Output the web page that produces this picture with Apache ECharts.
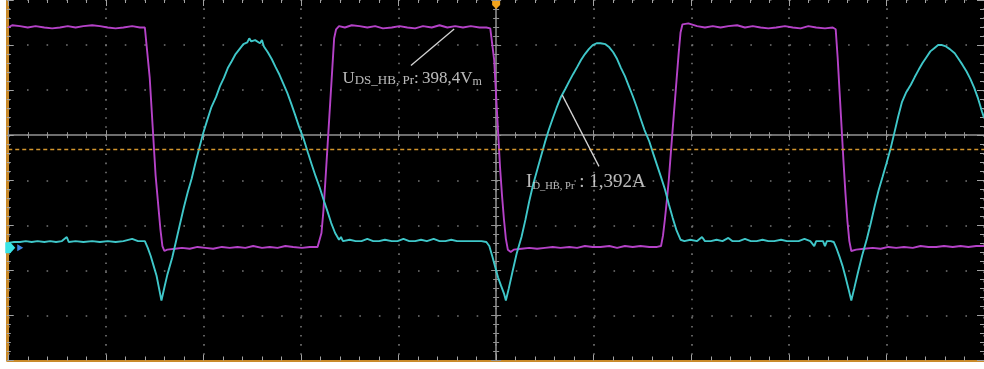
<!DOCTYPE html>
<html>
<head>
<meta charset="utf-8">
<script src="https://cdn.jsdelivr.net/npm/echarts@6/dist/echarts.min.js"></script>
<style>
  html, body { margin: 0; padding: 0; background: #fff; }
  #scope { width: 984px; height: 369px; }
</style>
</head>
<body>
<div id="scope"></div>
<script>
// Time axis in screen divisions relative to the trigger point (10 div wide),
// vertical axis in divisions (8 div tall, reference line at 0).

// Channel U: drain-source voltage of the half-bridge switch
const uTime = [
  -5.00, -4.96, -4.88, -4.80, -4.72, -4.63, -4.55, -4.47, -4.39, -4.31, -4.23, -4.14, -4.06, -3.98, -3.90, -3.82, -3.73, -3.65, -3.60, -3.58,
  -3.55, -3.52, -3.49, -3.46, -3.44, -3.42, -3.40,
  -3.37, -3.29, -3.22, -3.14, -3.06, -2.98, -2.90, -2.81, -2.73, -2.65, -2.57, -2.49, -2.40, -2.32, -2.24, -2.16, -2.08, -1.99, -1.91, -1.83,
  -1.81, -1.79, -1.77, -1.75, -1.73, -1.71, -1.69, -1.67, -1.66, -1.64, -1.61,
  -1.55, -1.48, -1.40, -1.32, -1.24, -1.16, -1.07, -0.99, -0.91, -0.83, -0.75, -0.66, -0.58, -0.50, -0.42, -0.34, -0.26, -0.17, -0.10, -0.06,
  -0.04, -0.02, 0.00, 0.02, 0.04, 0.06, 0.08, 0.10, 0.12, 0.15,
  0.18, 0.26, 0.34, 0.42, 0.50, 0.58, 0.66, 0.75, 0.83, 0.91, 0.99, 1.07, 1.16, 1.24, 1.32, 1.40, 1.48, 1.57, 1.65, 1.69,
  1.71, 1.73, 1.75, 1.77, 1.79, 1.81, 1.83, 1.85, 1.87, 1.89, 1.91,
  1.97, 2.06, 2.14, 2.22, 2.30, 2.38, 2.47, 2.55, 2.63, 2.71, 2.79, 2.87, 2.96, 3.04, 3.12, 3.20, 3.28, 3.37, 3.45, 3.48,
  3.50, 3.52, 3.54, 3.56, 3.58, 3.60, 3.62, 3.64,
  3.69, 3.77, 3.86, 3.94, 4.02, 4.10, 4.18, 4.27, 4.35, 4.43, 4.51, 4.59, 4.68, 4.76, 4.84, 4.92, 5.00
];
const uLevel = [
  2.39, 2.44, 2.42, 2.39, 2.42, 2.39, 2.37, 2.39, 2.42, 2.39, 2.42, 2.44, 2.42, 2.39, 2.37, 2.39, 2.42, 2.39, 2.39, 2.35,
  1.27, 0.19, -0.89, -1.62, -2.10, -2.46, -2.57,
  -2.54, -2.52, -2.50, -2.52, -2.48, -2.50, -2.52, -2.48, -2.50, -2.48, -2.50, -2.46, -2.50, -2.48, -2.50, -2.46, -2.48, -2.50, -2.48, -2.48,
  -2.48, -2.17, -1.68, -1.02, -0.32, 0.39, 1.09, 1.80, 2.15, 2.35, 2.42,
  2.39, 2.44, 2.42, 2.39, 2.42, 2.37, 2.39, 2.42, 2.39, 2.37, 2.42, 2.39, 2.44, 2.39, 2.42, 2.39, 2.42, 2.39, 2.39, 2.37,
  2.33, 1.67, 0.87, 0.08, -0.71, -1.33, -1.86, -2.30, -2.54, -2.59,
  -2.54, -2.52, -2.50, -2.52, -2.50, -2.48, -2.50, -2.48, -2.50, -2.46, -2.48, -2.48, -2.46, -2.50, -2.46, -2.48, -2.46, -2.48, -2.48, -2.46,
  -2.23, -1.86, -1.44, -0.98, -0.41, 0.15, 0.70, 1.25, 1.80, 2.28, 2.46,
  2.48, 2.42, 2.39, 2.42, 2.39, 2.42, 2.44, 2.39, 2.42, 2.39, 2.37, 2.39, 2.42, 2.39, 2.37, 2.42, 2.39, 2.37, 2.39, 2.35,
  1.73, 0.96, 0.19, -0.58, -1.29, -1.90, -2.35, -2.57,
  -2.54, -2.52, -2.50, -2.52, -2.48, -2.50, -2.48, -2.50, -2.46, -2.48, -2.48, -2.46, -2.48, -2.46, -2.48, -2.46, -2.46
];

// Channel I: drain current of the half-bridge switch
const iTime = [
  -5.00, -4.94, -4.88, -4.82, -4.76, -4.70, -4.63, -4.57, -4.51, -4.45, -4.40, -4.38, -4.31, -4.23, -4.14, -4.06, -3.98, -3.90, -3.82, -3.73, -3.67, -3.60,
  -3.57, -3.54, -3.51, -3.48, -3.45, -3.43,
  -3.40, -3.37, -3.32, -3.28, -3.24, -3.20, -3.16, -3.12, -3.08, -3.04, -3.00, -2.96, -2.92, -2.87, -2.83, -2.79, -2.75, -2.71, -2.67, -2.63,
  -2.59, -2.55, -2.53, -2.51, -2.47, -2.42, -2.40, -2.38, -2.34, -2.30, -2.26, -2.22, -2.18, -2.14, -2.10, -2.06, -2.02, -1.97, -1.93, -1.89,
  -1.85, -1.81, -1.77, -1.73, -1.69, -1.65, -1.61,
  -1.59, -1.57, -1.50, -1.44, -1.38, -1.32, -1.26, -1.20, -1.14, -1.07, -1.01, -0.95, -0.89, -0.83, -0.77, -0.71, -0.64, -0.58, -0.52, -0.46,
  -0.40, -0.34, -0.28, -0.21, -0.15, -0.10,
  -0.07, -0.04, -0.01, 0.02, 0.05, 0.08, 0.10,
  0.13, 0.17, 0.21, 0.26, 0.30, 0.34, 0.38, 0.42, 0.46, 0.50, 0.54, 0.58, 0.62, 0.66, 0.71, 0.75, 0.79, 0.83, 0.87, 0.91,
  0.95, 0.99, 1.03, 1.07, 1.12, 1.16, 1.20, 1.24, 1.28, 1.32, 1.36, 1.40, 1.44, 1.48, 1.52, 1.57, 1.61, 1.65, 1.69, 1.73,
  1.77, 1.81, 1.85, 1.89,
  1.93, 1.99, 2.06, 2.11, 2.14, 2.20, 2.26, 2.32, 2.38, 2.42, 2.49, 2.55, 2.61, 2.67, 2.73, 2.79, 2.85, 2.92, 2.98, 3.04,
  3.10, 3.16, 3.22, 3.26, 3.28, 3.35, 3.37, 3.39, 3.43, 3.46,
  3.49, 3.52, 3.55, 3.58, 3.61, 3.64,
  3.67, 3.71, 3.75, 3.80, 3.84, 3.88, 3.92, 3.96, 4.00, 4.04, 4.08, 4.12, 4.16, 4.20, 4.25, 4.29, 4.33, 4.37, 4.41, 4.45,
  4.49, 4.53, 4.57, 4.61, 4.65, 4.70, 4.74, 4.78, 4.82, 4.86, 4.90, 4.94, 4.98, 5.00
];
const iLevel = [
  -2.39, -2.37, -2.37, -2.35, -2.37, -2.35, -2.37, -2.35, -2.37, -2.35, -2.26, -2.37, -2.35, -2.37, -2.35, -2.37, -2.35, -2.37, -2.35, -2.30, -2.35, -2.35,
  -2.50, -2.68, -2.90, -3.12, -3.45, -3.67,
  -3.38, -3.10, -2.72, -2.35, -1.97, -1.60, -1.26, -0.96, -0.60, -0.27, 0.06, 0.34, 0.61, 0.85, 1.09, 1.27, 1.49, 1.64, 1.80, 1.91,
  2.02, 2.06, 2.15, 2.08, 2.11, 2.04, 2.11, 1.97, 1.84, 1.69, 1.51, 1.34, 1.14, 0.94, 0.70, 0.45, 0.19, -0.10, -0.38, -0.65,
  -0.91, -1.15, -1.42, -1.68, -1.95, -2.17, -2.32,
  -2.26, -2.35, -2.32, -2.35, -2.35, -2.30, -2.35, -2.35, -2.32, -2.35, -2.35, -2.30, -2.35, -2.35, -2.32, -2.35, -2.30, -2.35, -2.35, -2.32,
  -2.35, -2.35, -2.35, -2.35, -2.35, -2.37,
  -2.46, -2.68, -2.92, -3.16, -3.34, -3.51, -3.67,
  -3.40, -3.01, -2.63, -2.26, -1.88, -1.46, -1.09, -0.78, -0.47, -0.16, 0.12, 0.37, 0.61, 0.83, 1.03, 1.20, 1.36, 1.51, 1.67, 1.80,
  1.91, 2.00, 2.04, 2.04, 2.02, 1.95, 1.84, 1.69, 1.49, 1.31, 1.09, 0.87, 0.63, 0.37, 0.12, -0.14, -0.41, -0.67, -0.93, -1.20,
  -1.53, -1.84, -2.12, -2.32,
  -2.35, -2.32, -2.35, -2.26, -2.35, -2.35, -2.32, -2.35, -2.28, -2.35, -2.35, -2.30, -2.35, -2.35, -2.32, -2.35, -2.35, -2.32, -2.35, -2.35,
  -2.35, -2.30, -2.35, -2.46, -2.35, -2.35, -2.46, -2.35, -2.35, -2.37,
  -2.52, -2.70, -2.90, -3.14, -3.40, -3.67,
  -3.40, -3.03, -2.68, -2.30, -1.95, -1.57, -1.22, -0.93, -0.63, -0.32, 0.04, 0.41, 0.74, 0.94, 1.12, 1.29, 1.45, 1.60, 1.73, 1.86,
  1.93, 2.00, 2.00, 1.97, 1.91, 1.82, 1.69, 1.56, 1.42, 1.25, 1.05, 0.81, 0.52, 0.39
];

// Measurement annotations: text anchor and leader line end points
const uLabelAt = [-1.575, 1.06];
const uLeader = [[-0.873, 1.549], [-0.430, 2.356]];
const iLabelAt = [0.307, -1.26];
const iLeader = [[0.678, 0.888], [1.054, -0.692]];
const triggerLevel = -0.317;
const iGroundLevel = -2.50;

const X_MIN = -5, X_MAX = 5, Y_MIN = -5, Y_MAX = 3;

const uPoints = uTime.map((t, k) => [t, uLevel[k]]);
const iPoints = iTime.map((t, k) => [t, iLevel[k]]);

const TICK = '#a4a4a4';
const AXIS_ORANGE = '#c98a2a';
const CENTER = '#939393';
const DOTS = '#767676';

function hAxis(position, opts) {
  return Object.assign({
    type: 'value', min: X_MIN, max: X_MAX, interval: 1, position: position,
    axisLabel: { show: false }, splitLine: { show: false }
  }, opts);
}
function vAxis(position, opts) {
  return Object.assign({
    type: 'value', min: Y_MIN, max: Y_MAX, interval: 1, position: position,
    axisLabel: { show: false }, splitLine: { show: false }
  }, opts);
}

const serif = '"Liberation Serif", "Times New Roman", serif';
const txt = '#e8e8e8';

const option = {
  animation: false,
  backgroundColor: '#ffffff',
  grid: {
    left: 8.25, right: -1.75, top: -2.5, bottom: 8.5,
    show: true, backgroundColor: '#000000', borderWidth: 0
  },
  xAxis: [
    // bottom edge of the screen
    hAxis('bottom', {
      axisLine: { show: true, onZero: false, lineStyle: { color: AXIS_ORANGE, width: 2 } },
      axisTick: { show: true, inside: true, length: 6, lineStyle: { color: TICK } },
      minorTick: { show: true, splitNumber: 5, length: 4, lineStyle: { color: TICK } },
      splitLine: { show: true, lineStyle: { color: DOTS, width: 1.6, type: [1.6, 7.475], dashOffset: 0.8 } }
    }),
    // top edge of the screen
    hAxis('top', {
      axisLine: { show: false, onZero: false },
      axisTick: { show: true, inside: true, length: 6, lineStyle: { color: TICK } },
      minorTick: { show: true, splitNumber: 5, length: 3, lineStyle: { color: TICK } }
    }),
    // horizontal centre line, ticks above
    hAxis('bottom', {
      axisLine: { show: true, onZero: true, onZeroAxisIndex: 0, lineStyle: { color: CENTER, width: 1.5 } },
      axisTick: { show: true, inside: true, length: 5, lineStyle: { color: CENTER } },
      minorTick: { show: true, splitNumber: 5, length: 3, lineStyle: { color: CENTER } }
    }),
    // horizontal centre line, ticks below
    hAxis('top', {
      axisLine: { show: false, onZero: true, onZeroAxisIndex: 0 },
      axisTick: { show: true, inside: true, length: 5, lineStyle: { color: CENTER } },
      minorTick: { show: true, splitNumber: 5, length: 3, lineStyle: { color: CENTER } }
    })
  ],
  yAxis: [
    // left edge of the screen
    vAxis('left', {
      offset: 1.5,
      axisLine: { show: true, onZero: false, lineStyle: { color: AXIS_ORANGE, width: 3 } },
      axisTick: { show: true, inside: true, length: 7, lineStyle: { color: TICK } },
      minorTick: { show: true, splitNumber: 5, length: 4, lineStyle: { color: TICK } },
      splitLine: { show: true, lineStyle: { color: DOTS, width: 1.6, type: [1.6, 17.95], dashOffset: 0.8 } }
    }),
    // right edge of the screen
    vAxis('right', {
      axisLine: { show: false, onZero: false },
      axisTick: { show: true, inside: true, length: 7, lineStyle: { color: TICK } },
      minorTick: { show: true, splitNumber: 5, length: 4, lineStyle: { color: TICK } }
    }),
    // vertical centre line, ticks to the right
    vAxis('left', {
      axisLine: { show: true, onZero: true, onZeroAxisIndex: 0, lineStyle: { color: CENTER, width: 1.5 } },
      axisTick: { show: true, inside: true, length: 5, lineStyle: { color: CENTER } },
      minorTick: { show: true, splitNumber: 5, length: 3, lineStyle: { color: CENTER } }
    }),
    // vertical centre line, ticks to the left
    vAxis('right', {
      axisLine: { show: false, onZero: true, onZeroAxisIndex: 0 },
      axisTick: { show: true, inside: true, length: 5, lineStyle: { color: CENTER } },
      minorTick: { show: true, splitNumber: 5, length: 3, lineStyle: { color: CENTER } }
    })
  ],
  series: [
    {
      name: 'U_DS',
      type: 'line',
      data: uPoints,
      showSymbol: false,
      silent: true,
      z: 3,
      lineStyle: { color: '#b542c8', width: 1.9 },
      // trigger level cursor
      markLine: {
        silent: true,
        symbol: ['none', 'none'],
        label: { show: false },
        lineStyle: { color: '#d4962e', width: 1.4, type: [4, 3] },
        data: [{ yAxis: triggerLevel }]
      }
    },
    {
      name: 'I_D',
      type: 'line',
      data: iPoints,
      showSymbol: false,
      silent: true,
      z: 4,
      lineStyle: { color: '#3fc7c9', width: 1.9 },
      markPoint: {
        silent: true,
        label: { show: false },
        data: [
          {
            coord: [X_MIN, iGroundLevel],
            symbol: 'path://M0,0 L5,0 L10,5 L5,10 L0,10 Z',
            symbolSize: [10, 11], symbolOffset: [2, 0],
            itemStyle: { color: '#39e4e6' }
          },
          {
            coord: [X_MIN, iGroundLevel],
            symbol: 'path://M0,0 L8,4 L0,8 Z',
            symbolSize: [6, 7], symbolOffset: [12, 0],
            itemStyle: { color: '#3d86e0' }
          }
        ]
      }
    },
    {
      name: 'annotations',
      type: 'scatter',
      symbolSize: 0,
      silent: true,
      z: 5,
      data: [
        { value: uLabelAt, label: { formatter: '{u|U}{us|DS_HB, Pr}{u|:\u2009398,4V}{um|m}' } },
        { value: iLabelAt, label: { formatter: '{i|I}{is|D_HB, Pr}{i| : 1,392A}' } }
      ],
      label: {
        show: true,
        position: [0, 0],
        align: 'left',
        verticalAlign: 'bottom',
        rich: {
          u: { fontFamily: serif, fontSize: 17, lineHeight: 17, color: txt, verticalAlign: 'bottom' },
          us: { fontFamily: serif, fontSize: 13, lineHeight: 13, color: txt, verticalAlign: 'bottom' },
          um: { fontFamily: serif, fontSize: 12, lineHeight: 12, color: txt, verticalAlign: 'bottom' },
          i: { fontFamily: serif, fontSize: 19, lineHeight: 19, color: txt, verticalAlign: 'bottom' },
          is: { fontFamily: serif, fontSize: 10.5, lineHeight: 10.5, color: txt, verticalAlign: 'bottom' }
        }
      },
      markLine: {
        silent: true,
        symbol: ['none', 'none'],
        label: { show: false },
        lineStyle: { color: '#d4d4d4', width: 1.3, type: 'solid' },
        data: [
          [{ coord: uLeader[0] }, { coord: uLeader[1] }],
          [{ coord: iLeader[0] }, { coord: iLeader[1] }]
        ]
      },
      markPoint: {
        silent: true,
        label: { show: false },
        data: [
          {
            coord: [0, Y_MAX],
            symbol: 'path://M0,0 L10,0 L10,5 L5,10 L0,5 Z',
            symbolSize: [8, 8], symbolOffset: [0, 5],
            itemStyle: { color: '#f2a31c' }
          }
        ]
      }
    }
  ]
};

const chart = echarts.init(document.getElementById('scope'), null, { renderer: 'canvas' });
chart.setOption(option);
</script>
</body>
</html>
